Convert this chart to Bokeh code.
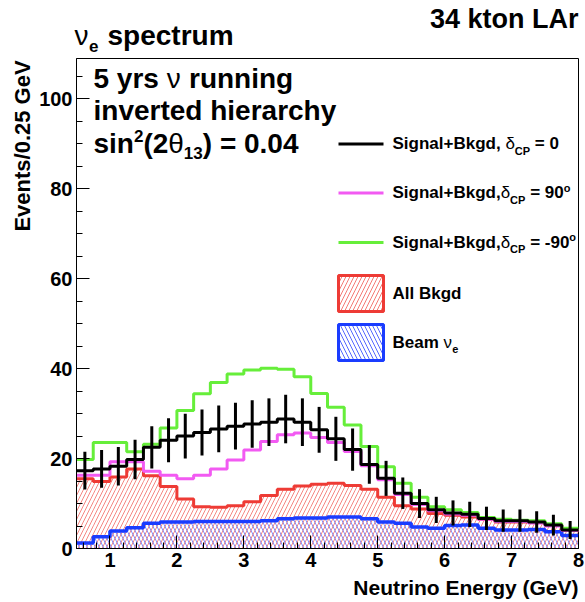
import numpy as np
from bokeh.plotting import figure
from bokeh.layouts import column, row
from bokeh.models import Range1d, FixedTicker, Label, BoxAnnotation
from bokeh.embed import file_html
from bokeh.resources import INLINE

# ---------------- data ----------------
E_MIN, E_MAX, BIN_W = 0.5, 8.0, 0.25

sig_dcp0 = [17.3, 17.7, 18.3, 19.8, 22.5, 24.1, 25.0, 25.8, 26.6, 27.2, 27.7, 28.1, 28.8, 28.1, 26.4,
            24.4, 22.0, 18.7, 15.6, 12.3, 10.0, 8.6, 7.9, 7.6, 6.7, 6.2, 6.2, 5.9, 5.2, 4.1]
err_dcp0 = [4.2, 4.2, 4.3, 4.4, 4.7, 4.9, 5.0, 5.1, 5.2, 5.2, 5.3, 5.3, 5.4, 5.3, 5.1,
            4.9, 4.7, 4.3, 3.9, 3.5, 3.2, 2.9, 2.8, 2.8, 2.6, 2.5, 2.5, 2.4, 2.3, 2.0]
sig_dcp90 = [16.3, 16.3, 19.3, 19.3, 17.2, 16.3, 15.5, 16.3, 17.7, 19.7, 21.9, 23.8, 25.3, 25.7, 24.7,
             23.6, 21.6, 18.4, 15.3, 12.0, 9.8, 8.4, 7.7, 7.4, 6.5, 6.0, 6.0, 5.7, 5.0, 4.0]
sig_dcpm90 = [19.8, 23.6, 23.6, 21.5, 23.2, 26.8, 30.7, 34.4, 36.9, 38.8, 39.7, 40.1, 39.9, 38.2, 34.5,
              31.4, 27.5, 22.7, 18.2, 14.5, 11.4, 9.3, 8.6, 8.0, 6.9, 6.5, 6.3, 6.2, 5.5, 4.5]
all_bkgd = [15.5, 14.9, 15.9, 17.7, 16.2, 13.8, 11.0, 9.3, 9.2, 9.5, 10.4, 11.8, 13.2, 13.9, 14.3,
            14.5, 14.0, 13.2, 11.4, 9.5, 8.8, 7.8, 7.4, 7.0, 6.5, 5.9, 5.9, 5.9, 5.2, 4.0]
beam_nue = [1.2, 2.6, 3.9, 4.6, 5.6, 5.9, 5.9, 6.0, 6.0, 6.0, 6.0, 6.2, 6.6, 6.8, 6.8,
            7.0, 7.0, 6.6, 5.9, 5.6, 4.8, 4.5, 5.1, 5.2, 4.5, 4.1, 4.1, 4.2, 3.7, 2.9]

x_major = [1, 2, 3, 4, 5, 6, 7, 8]
y_major = [0, 20, 40, 60, 80, 100]
Y_MAX = 109

# ---------------- style ----------------
FONT = "Liberation Sans"
C_BLACK = "#000000"
C_MAG = "#f25af2"
C_GREEN = "#66ee3a"
C_RED = "#ee3b35"
C_RED_H = "#f47a74"
C_BLUE = "#1a3cff"
C_BLUE_H = "#5568ff"
BASE_SHIFT = 0.37   # Bokeh's alphabetic anchor sits this fraction of the font size above the baseline

W, H = 585, 602
FL, FR, FT, FB = 76, 578, 58, 548   # main frame edges in page px
LEFT_W = 36                          # strip holding the y-axis title
FOOT_H = 27                          # strip holding the x-axis title


def blank(width, height, x0, y0):
    """Helper canvas whose data coords equal page pixels (y downward)."""
    f = figure(width=width, height=height, output_backend="svg", toolbar_location=None,
               x_range=Range1d(x0, x0 + width), y_range=Range1d(y0 + height, y0),
               x_axis_type=None, y_axis_type=None, title_location=None,
               min_border_left=0, min_border_right=0, min_border_top=0, min_border_bottom=0)
    f.outline_line_color = None
    f.background_fill_color = "white"
    f.border_fill_color = "white"
    return f


header = blank(W, FT, 0, 0)
leftf = blank(LEFT_W, H - FOOT_H - FT, 0, FT)
footer = blank(W, FOOT_H, 0, H - FOOT_H)

main_w = W - LEFT_W
main_h = H - FT - FOOT_H
p = figure(width=main_w, height=main_h, output_backend="svg", toolbar_location=None,
           x_range=Range1d(E_MIN, E_MAX), y_range=Range1d(0, Y_MAX),
           min_border_left=FL - LEFT_W, min_border_right=W - FR, min_border_top=0,
           min_border_bottom=main_h - (FB - FT), title_location=None)
p.grid.visible = False
p.outline_line_color = "black"
p.outline_line_width = 1
p.background_fill_color = "white"
p.border_fill_color = "white"

edges = E_MIN + BIN_W * np.arange(len(sig_dcp0) + 1)
lefts, rights = edges[:-1], edges[1:]
centers = 0.5 * (lefts + rights)


def ext(v):
    return list(v) + [v[-1]]


# hatched areas
p.quad(left=lefts, right=rights, bottom=0, top=all_bkgd, fill_alpha=0, line_alpha=0,
       hatch_pattern="/", hatch_color=C_RED_H, hatch_scale=8, hatch_weight=1, hatch_alpha=0.9)
p.quad(left=lefts, right=rights, bottom=0, top=beam_nue, fill_alpha=0, line_alpha=0,
       hatch_pattern="\\", hatch_color=C_BLUE_H, hatch_scale=8, hatch_weight=1, hatch_alpha=0.75)

p.step(x=edges, y=ext(all_bkgd), mode="after", line_color=C_RED, line_width=3)
p.step(x=edges, y=ext(beam_nue), mode="after", line_color=C_BLUE, line_width=3.5)
p.step(x=edges, y=ext(sig_dcp90), mode="after", line_color=C_MAG, line_width=3)
p.step(x=edges, y=ext(sig_dcpm90), mode="after", line_color=C_GREEN, line_width=3)
p.step(x=edges, y=ext(sig_dcp0), mode="after", line_color=C_BLACK, line_width=3)
lo = [v - e for v, e in zip(sig_dcp0, err_dcp0)]
hi = [v + e for v, e in zip(sig_dcp0, err_dcp0)]
p.segment(x0=centers, y0=lo, x1=centers, y1=hi, line_color=C_BLACK, line_width=3)

# axes
minor_x = [round(v, 2) for v in np.arange(0.6, 8.0, 0.2) if abs(v - round(v)) > 1e-6]
minor_y = [v for v in range(5, 110, 5) if v % 20 != 0]
p.xaxis.ticker = FixedTicker(ticks=x_major, minor_ticks=minor_x)
p.yaxis.ticker = FixedTicker(ticks=y_major, minor_ticks=minor_y)
for ax in (p.xaxis, p.yaxis):
    ax.major_tick_in = 13
    ax.major_tick_out = 0
    ax.minor_tick_in = 6
    ax.minor_tick_out = 0
    ax.major_tick_line_color = "black"
    ax.minor_tick_line_color = "black"
    ax.axis_line_color = "black"
    ax.axis_line_width = 1
    ax.major_label_text_font = FONT
    ax.major_label_text_font_style = "bold"
    ax.major_label_text_font_size = "20px"
    ax.major_label_text_color = "black"
p.xaxis.major_label_standoff = 4
p.yaxis.major_label_standoff = 4

# ---------------- text helpers ----------------
WID = {' ': 278, '(': 333, ')': 333, '+': 584, ',': 278, '-': 333, '.': 278, '/': 278, '=': 584,
       'A': 722, 'B': 722, 'C': 722, 'E': 667, 'G': 778, 'L': 611, 'N': 722, 'P': 667, 'S': 667, 'V': 667,
       'a': 556, 'b': 611, 'c': 556, 'd': 611, 'e': 556, 'g': 611, 'h': 611, 'i': 278, 'k': 556, 'l': 278,
       'm': 889, 'n': 611, 'o': 611, 'p': 611, 'r': 389, 's': 556, 't': 333, 'u': 611, 'v': 556, 'y': 556,
       'δ': 556, 'θ': 556, 'ν': 520}


def tw(s, size):
    return sum(WID.get(c, 556) for c in s) / 1000.0 * size


def lab(X, Y, text, size, style="bold", align="left", angle=0.0):
    """Place text with its baseline at page pixel (X, Y)."""
    if angle == 0.0:
        Y = Y - BASE_SHIFT * size
    else:
        X = X - BASE_SHIFT * size
    if Y < FT:
        fig, x, y, units = header, X, Y, "data"
    elif Y > H - FOOT_H:
        fig, x, y, units = footer, X, Y, "data"
    elif X < LEFT_W:
        fig, x, y, units = leftf, X, Y, "data"
    else:
        fig, x, y, units = p, X - FL, FB - Y, "screen"
    fig.add_layout(Label(x=x, y=y, x_units=units, y_units=units, text=text,
                         text_font=FONT, text_font_size=f"{size}px", text_font_style=style,
                         text_color="black", text_align=align, text_baseline="alphabetic",
                         angle=angle, angle_units="rad"))


def runs(X, Y, pieces):
    x = X
    for text, size, style, dy in pieces:
        stripped = text.lstrip(" ")
        x += tw(text[:len(text) - len(stripped)], size)
        if stripped.strip():
            lab(x, Y - dy, stripped.rstrip(" "), size, style)
        x += tw(stripped, size)


# titles
lab(FR, 28, "34 kton LAr", 27, align="right")
runs(74, 45, [("ν", 28, "normal", 0), ("e", 17, "bold", -7)])
lab(107, 45, "spectrum", 28)

# axis titles
lab(FR, 595, "Neutrino Energy (GeV)", 21, align="right")
lab(30, 60, "Events/0.25 GeV", 22, align="right", angle=np.pi / 2)

# inner text
runs(93, 88, [("5 yrs", 28, "bold", 0), (" ν", 28, "normal", 0), (" running", 28, "bold", 0)])
lab(93, 120, "inverted hierarchy", 28)
runs(93, 153, [("sin", 28, "bold", 0), ("2", 17, "bold", 11), ("(2", 28, "bold", 0),
               ("θ", 28, "normal", 0), ("13", 17, "bold", -6), (") = 0.04", 28, "bold", 0)])

# legend
LX0, LX1, TX = 338, 383, 392
for ly, col, tail in [(143.5, C_BLACK, None), (192.5, C_MAG, "90"), (242, C_GREEN, "-90")]:
    p.add_layout(BoxAnnotation(left=LX0 - FL, right=LX1 - FL, bottom=FB - ly - 1.5, top=FB - ly + 1.5,
                               left_units="screen", right_units="screen", bottom_units="screen",
                               top_units="screen", fill_color=col, fill_alpha=1, line_alpha=0))
    base = ly + 6
    if tail is None:
        runs(TX, base, [("Signal+Bkgd,", 17, "bold", 0), (" δ", 17, "normal", 0),
                        ("CP", 11, "bold", -5), (" = 0", 17, "bold", 0)])
    else:
        runs(TX, base, [("Signal+Bkgd,", 17, "bold", 0), ("δ", 17, "normal", 0),
                        ("CP", 11, "bold", -5), (" = " + tail, 17, "bold", 0), ("o", 11, "bold", 7)])

for top, bot, col, hcol, pat, pieces in [
        (275, 311, C_RED, C_RED_H, "/", [("All Bkgd", 17, "bold", 0)]),
        (324, 360, C_BLUE, C_BLUE_H, "\\", [("Beam", 17, "bold", 0), (" ν", 17, "normal", 0),
                                            ("e", 11, "bold", -5)])]:
    p.add_layout(BoxAnnotation(left=LX0 - FL, right=LX1 - FL, bottom=FB - bot, top=FB - top,
                               left_units="screen", right_units="screen", bottom_units="screen",
                               top_units="screen", fill_color="white", fill_alpha=0,
                               line_color=col, line_width=3, line_alpha=1,
                               hatch_pattern=pat, hatch_color=hcol, hatch_scale=8, hatch_weight=1))
    runs(TX, (top + bot) / 2 + 6, pieces)

layout = column(header, row(leftf, p), footer)
open("out.html", "w").write(file_html(layout, INLINE))
